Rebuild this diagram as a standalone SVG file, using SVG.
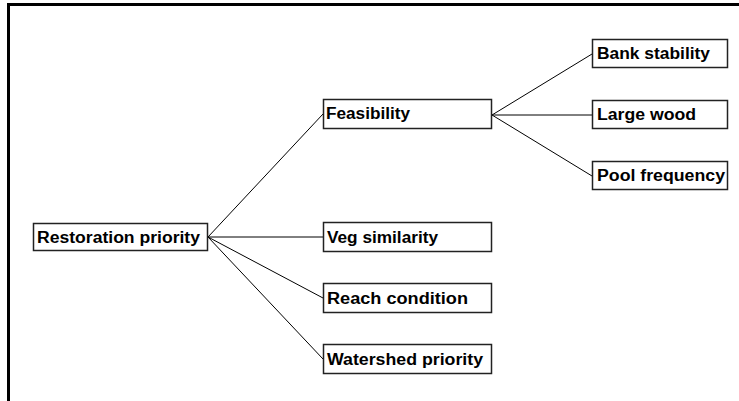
<svg xmlns="http://www.w3.org/2000/svg" width="739" height="401" viewBox="0 0 739 401">
<style>
.box{fill:#fff;stroke:#222;stroke-width:1.5}
.lbl{font-family:"Liberation Sans",Arial,sans-serif;font-weight:bold;font-size:16px;fill:#000}
.con{stroke:#000;stroke-width:1;fill:none}
.frame{stroke:#000;stroke-width:3;fill:none}
</style>
<rect width="739" height="401" fill="#fff"/>
<path class="frame" d="M8.5,401 V4.5 H739"/>
<g id="connectors">
<line class="con" x1="208" y1="237" x2="323" y2="114"/>
<line class="con" x1="208" y1="237" x2="323" y2="237"/>
<line class="con" x1="208" y1="237" x2="323" y2="298"/>
<line class="con" x1="208" y1="237" x2="323" y2="359"/>
<line class="con" x1="492" y1="115" x2="592" y2="54"/>
<line class="con" x1="492" y1="115" x2="592" y2="115"/>
<line class="con" x1="492" y1="115" x2="592" y2="176"/>
</g>
<g id="restoration">
<rect class="box" x="33.5" y="223.5" width="174" height="27"/>
<text class="lbl" x="37" y="243" textLength="163" lengthAdjust="spacingAndGlyphs">Restoration priority</text>
</g>
<g id="feasibility">
<rect class="box" x="323.5" y="99.5" width="168" height="29"/>
<text class="lbl" x="326" y="119" textLength="84" lengthAdjust="spacingAndGlyphs">Feasibility</text>
</g>
<g id="bank">
<rect class="box" x="592.5" y="39.5" width="135" height="28"/>
<text class="lbl" x="597" y="59" textLength="113" lengthAdjust="spacingAndGlyphs">Bank stability</text>
</g>
<g id="wood">
<rect class="box" x="592.5" y="100.5" width="135" height="28"/>
<text class="lbl" x="597" y="120" textLength="99" lengthAdjust="spacingAndGlyphs">Large wood</text>
</g>
<g id="pool">
<rect class="box" x="592.5" y="161.5" width="135" height="28"/>
<text class="lbl" x="597" y="181" textLength="128" lengthAdjust="spacingAndGlyphs">Pool frequency</text>
</g>
<g id="veg">
<rect class="box" x="323.5" y="222.5" width="168" height="29"/>
<text class="lbl" x="327" y="243" textLength="111" lengthAdjust="spacingAndGlyphs">Veg similarity</text>
</g>
<g id="reach">
<rect class="box" x="323.5" y="283.5" width="168" height="29"/>
<text class="lbl" x="327" y="304" textLength="141" lengthAdjust="spacingAndGlyphs">Reach condition</text>
</g>
<g id="watershed">
<rect class="box" x="323.5" y="344.5" width="168" height="29"/>
<text class="lbl" x="327" y="365" textLength="156" lengthAdjust="spacingAndGlyphs">Watershed priority</text>
</g>
</svg>
